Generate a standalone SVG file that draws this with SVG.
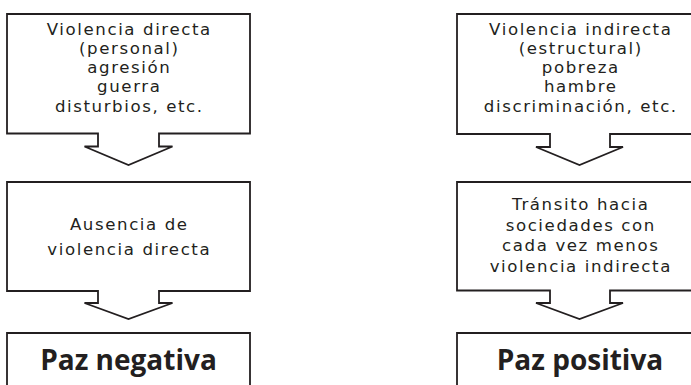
<svg xmlns="http://www.w3.org/2000/svg" width="691" height="385" viewBox="0 0 691 385">
<style>
.box{fill:#fff;stroke:#231f20;stroke-width:1.8;stroke-linejoin:miter}
.t{font-family:"DejaVu Sans","Liberation Sans",sans-serif;font-size:16.6px;fill:#231f20;text-anchor:middle;letter-spacing:1.6px}
.b{font-family:"Open Sans","Liberation Sans",sans-serif;font-size:28px;font-weight:bold;fill:#231f20;text-anchor:middle}
</style>
<rect width="691" height="385" fill="#fff"/>
<g id="connectors"></g>
<g id="n1">
<path class="box" d="M7,14 H250 V133.5 H159 V146.5 H172.5 L128.5,165 L84.5,146.5 H98 V133.5 H7 Z"/>
<text class="t" x="129.3" y="34.5">Violencia directa</text>
<text class="t" x="129.3" y="53.8">(personal)</text>
<text class="t" x="129.3" y="73">agresión</text>
<text class="t" x="129.3" y="92.3">guerra</text>
<text class="t" x="129.3" y="111.5">disturbios, etc.</text>
</g>
<g id="n2">
<path class="box" d="M7,182 H250 V291 H159 V303 H172.5 L128.5,319 L84.5,303 H98 V291 H7 Z"/>
<text class="t" x="129.3" y="229.5">Ausencia de</text>
<text class="t" x="129.3" y="255">violencia directa</text>
</g>
<g id="n3">
<path class="box" d="M7,400 V333 H250 V400"/>
<text class="b" x="128.5" y="370">Paz negativa</text>
</g>
<g id="n4">
<path class="box" d="M457,14 H705 V134 H610 V147 H623 L579.5,165 L536,147 H550 V134 H457 Z"/>
<text class="t" x="580.8" y="34.5">Violencia indirecta</text>
<text class="t" x="580.8" y="53.8">(estructural)</text>
<text class="t" x="580.8" y="73">pobreza</text>
<text class="t" x="580.8" y="92.3">hambre</text>
<text class="t" x="580.8" y="111.5">discriminación, etc.</text>
</g>
<g id="n5">
<path class="box" d="M457,182 H705 V290.5 H610 V303 H623 L579.5,319 L536,303 H550 V290.5 H457 Z"/>
<text class="t" x="580.8" y="210">Tránsito hacia</text>
<text class="t" x="580.8" y="230.5">sociedades con</text>
<text class="t" x="580.8" y="251">cada vez menos</text>
<text class="t" x="580.8" y="271.5">violencia indirecta</text>
</g>
<g id="n6">
<path class="box" d="M457,400 V333 H705"/>
<text class="b" x="580" y="370">Paz positiva</text>
</g>
</svg>
